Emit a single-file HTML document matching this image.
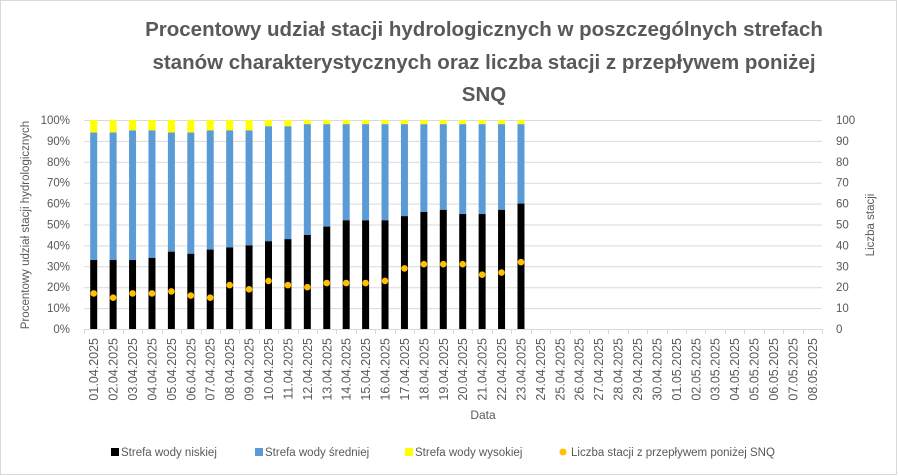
<!DOCTYPE html>
<html><head><meta charset="utf-8"><style>
body{margin:0;background:#fff}
svg{display:block;font-family:"Liberation Sans",sans-serif}
</style></head><body>
<svg width="898" height="476" viewBox="0 0 898 476">
<rect x="0.5" y="0.5" width="896" height="474" fill="#fff" stroke="#d9d9d9"/>
<g font-size="20.5" font-weight="bold" fill="#595959" text-anchor="middle">
<text x="484" y="36">Procentowy udział stacji hydrologicznych w poszczególnych strefach</text>
<text x="484" y="69">stanów charakterystycznych oraz liczba stacji z przepływem poniżej</text>
<text x="484" y="101">SNQ</text>
</g>
<g id="grid" stroke="#d9d9d9" stroke-width="1"></g>
<g id="bars"></g>
<g id="lbl" font-size="11.5" fill="#595959"></g>
<g id="dl" font-size="12.5" fill="#595959"></g>
<text x="483" y="419" font-size="12" fill="#595959" text-anchor="middle">Data</text>
<text transform="translate(29,225) rotate(-90)" font-size="11.5" fill="#595959" text-anchor="middle">Procentowy udział stacji hydrologicznych</text>
<text transform="translate(874,225) rotate(-90)" font-size="11.5" fill="#595959" text-anchor="middle">Liczba stacji</text>
<g font-size="11.5" fill="#595959">
<rect x="111" y="448" width="8" height="8" fill="#000"/><text x="121" y="456">Strefa wody niskiej</text>
<rect x="255" y="448" width="8" height="8" fill="#5b9bd5"/><text x="265" y="456">Strefa wody średniej</text>
<rect x="405" y="448" width="8" height="8" fill="#ffff00"/><text x="415" y="456">Strefa wody wysokiej</text>
<circle cx="563" cy="452" r="3.5" fill="#ffc000"/><text x="571" y="456">Liczba stacji z przepływem poniżej SNQ</text>
</g>
</svg>
<script>
const ns="http://www.w3.org/2000/svg";
function el(p,t,a,txt){const e=document.createElementNS(ns,t);for(const k in a)e.setAttribute(k,a[k]);if(txt!==undefined)e.textContent=txt;document.getElementById(p).appendChild(e);return e;}
const x0=84,x1=822,y0=329,H=209,n=38,w=(x1-x0)/n;
const Y=v=>y0-H*v/100;
for(let i=0;i<=10;i++){const y=Y(i*10);
 el("grid","line",{x1:x0,x2:x1,y1:y+.5,y2:y+.5});
 el("lbl","text",{x:70,y:y+4,"text-anchor":"end"},(i*10)+"%");
 el("lbl","text",{x:836,y:y+4},""+(i*10));
}
for(let i=0;i<=n;i++){const x=Math.round(x0+i*w)+.5;el("grid","line",{x1:x,x2:x,y1:y0,y2:y0+5});}
const low=[33,33,33,34,37,36,38,39,40,42,43,45,49,52,52,52,54,56,57,55,55,57,60];
const mid=[94,94,95,95,94,94,95,95,95,97,97,98,98,98,98,98,98,98,98,98,98,98,98];
const dot=[17,15,17,17,18,16,15,21,19,23,21,20,22,22,22,23,29,31,31,31,26,27,32];
const bw=7;
for(let i=0;i<low.length;i++){const cx=x0+(i+.5)*w,bx=cx-bw/2;
 el("bars","rect",{x:bx,y:Y(100),width:bw,height:Y(mid[i])-Y(100),fill:"#ffff00"});
 el("bars","rect",{x:bx,y:Y(mid[i]),width:bw,height:Y(low[i])-Y(mid[i]),fill:"#5b9bd5"});
 el("bars","rect",{x:bx,y:Y(low[i]),width:bw,height:y0-Y(low[i]),fill:"#000"});
 el("bars","circle",{cx:cx,cy:Y(dot[i]),r:3.3,fill:"#ffc000"});
}
for(let i=0;i<n;i++){const dd=new Date(2025,3,1+i);
 const s=String(dd.getDate()).padStart(2,"0")+"."+String(dd.getMonth()+1).padStart(2,"0")+".2025";
 const cx=x0+(i+.5)*w+4.5;
 el("dl","text",{transform:`translate(${cx},338) rotate(-90)`,"text-anchor":"end"},s);
}
</script>
</body></html>
